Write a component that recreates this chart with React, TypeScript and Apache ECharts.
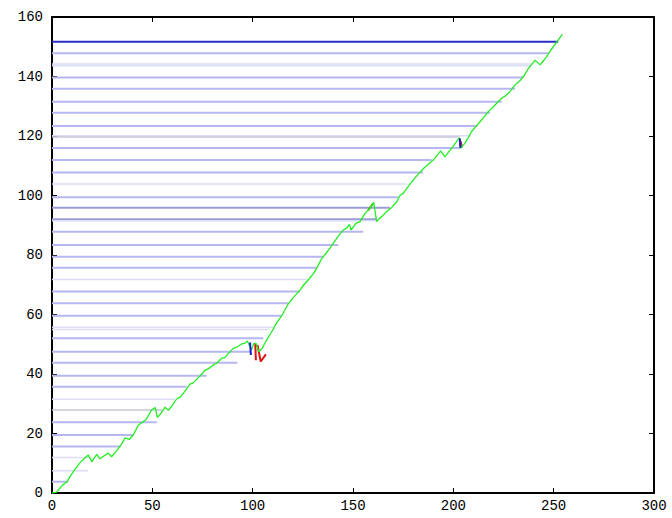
import React, { useEffect, useRef } from "react";
import * as echarts from "echarts";

// Main price path (x, y)
const pathX = [0, 2.3, 5, 7.5, 9, 11, 14, 16, 18.1, 19.8, 22.3, 23.9, 26, 28, 29.7, 32, 34.7, 36.4, 38.5, 40.5, 43, 45, 47, 49.7, 51.5, 52.5, 54, 56.3, 58, 60, 62.1, 64, 66, 68.8, 70.3, 72, 74, 76.2, 78, 80.4, 82, 84.6, 86.2, 88, 90.3, 92, 94.5, 96, 97.3, 98.3, 99.5, 100.5, 101.7, 103, 104.7, 107, 109.5, 112, 114.5, 116, 117.8, 120, 123.6, 125.5, 127.7, 130, 131.9, 134.4, 136.5, 138.5, 141.9, 143.5, 145.2, 147, 148.2, 149, 151.5, 153.5, 156, 158.5, 160.3, 161.8, 163, 164.3, 166.8, 169.3, 171.8, 173.4, 175, 178.4, 181, 183, 185, 187.5, 190, 193.7, 195.8, 197.5, 199.2, 201.5, 203, 203.8, 205.8, 207.5, 209.1, 211, 213.3, 215.5, 217.4, 219.5, 221.6, 224.1, 226, 228.2, 230.7, 233, 234.9, 237.4, 239, 240.7, 243.2, 244.8, 246.5, 248, 249.8, 252.3, 254.3];
const pathY = [0, 0.3, 2.5, 3.8, 5.5, 7.5, 10.2, 11.5, 12.8, 10.5, 13, 11.5, 12.5, 13.4, 12.2, 14, 16.5, 18.5, 18, 19.5, 22.8, 23.8, 24.8, 28, 28.7, 25.4, 26.5, 28.8, 27.8, 29.5, 31.6, 32.3, 34, 36.6, 37, 38.2, 39.5, 41.2, 41.8, 43, 43.6, 45.3, 45.5, 47, 48.6, 49, 50.1, 50.3, 51.1, 49.7, 48.2, 50.2, 50.3, 47.5, 48.6, 51.5, 54.2, 57.2, 59.6, 61.5, 63.6, 65.5, 68.2, 70, 71.6, 73.5, 75.5, 78.8, 80.5, 82.3, 85.6, 87, 88.4, 89.2, 90.3, 88.4, 90.6, 91.2, 94, 95.7, 97.7, 91.2, 92.2, 92.9, 94.6, 96, 97.9, 100, 100.7, 103.8, 106, 107.5, 109, 110.5, 111.9, 115, 113, 114.5, 115.9, 118, 119.4, 115.9, 117.6, 119.5, 121.5, 123, 124.8, 126.5, 128.2, 129.5, 131, 132.7, 133.5, 134.9, 137.1, 138.5, 139.9, 142.7, 144, 145.5, 143.9, 145.2, 146.7, 148.3, 150, 152.3, 154.2];

// Horizontal levels: y value, x where it ends, strength tier (0 faint .. 3 strong, 4 grey)
const levelY = [151.7, 147.8, 144.2, 143.6, 139.7, 135.9, 131.5, 127.8, 123.4, 120.1, 119.7, 116, 111.9, 107.7, 103.9, 99.4, 95.9, 92, 91.5, 87.8, 83.4, 79.4, 75.7, 71.8, 67.7, 63.8, 59.6, 55.7, 55, 52, 47.5, 43.8, 39.4, 35.7, 31.5, 27.9, 23.8, 19.5, 15.6, 11.9, 7.5, 3.8];
const levelEndX = [252.3, 247.3, 239, 239, 234.9, 230.7, 224.1, 218.3, 212, 209, 203, 203.3, 189.2, 185, 176.7, 172.6, 168.4, 161.8, 161.8, 155.1, 142.7, 135.2, 131.9, 127.7, 123.6, 117.8, 114.5, 110.3, 108, 105.3, 98.7, 92.3, 77.1, 67.1, 61.3, 55, 52.2, 40.5, 34.2, 20, 18, 8.1];
const levelTier = [3, 1, 0, 0, 1, 1, 1, 1, 1, 0, 4, 1, 1, 1, 0, 1, 2, 2, 0, 1, 1, 1, 1, 0, 1, 1, 1, 0, 0, 1, 1, 1, 1, 1, 0, 4, 1, 1, 1, 0, 0, 1];

// Short down/up marks
const blueMarks = [
  [[98.7, 50.6], [99.1, 46.4]],
  [[203.2, 119.2], [203.5, 116]],
];
const redMarks = [
  [[101.3, 50.2], [101.6, 44.6]],
  [[102.4, 49.8], [104, 44.2], [106.6, 46.6]],
  [[203.7, 118.2], [204.2, 116.2]],
  [[157.6, 95.0], [160.0, 97.4]],
];

const tierStyle: Record<number, { color: string; width: number }> = {
  0: { color: "#dcdcf7", width: 1.5 },
  1: { color: "#b6b6f0", width: 2 },
  2: { color: "#9c9cdc", width: 2 },
  3: { color: "#2c2cc8", width: 2 },
  4: { color: "#c4c4d8", width: 1.5 },
};

const FONT = "Liberation Mono";

export default function App() {
  const ref = useRef<HTMLDivElement>(null);
  useEffect(() => {
    if (!ref.current) return;
    const chart = echarts.init(ref.current, undefined, { renderer: "svg" });
    const series: any[] = [];
    levelY.forEach((y, i) => {
      const st = tierStyle[levelTier[i]];
      series.push({
        type: "line",
        data: [[0, y], [levelEndX[i], y]],
        symbol: "none",
        silent: true,
        z: 2 + (levelTier[i] === 3 ? 1 : 0),
        lineStyle: { color: st.color, width: st.width },
      });
    });
    redMarks.forEach((m, i) =>
      series.push({
        type: "line",
        data: m,
        symbol: "none",
        silent: true,
        z: 4,
        lineStyle: { color: i === 3 ? "#7a8a10" : "#e01010", width: 2 },
      })
    );
    series.push({
      type: "line",
      data: pathX.map((x, i) => [x, pathY[i]]),
      symbol: "none",
      silent: true,
      z: 5,
      lineStyle: { color: "#22ee22", width: 1.3 },
    });
    blueMarks.forEach((m) =>
      series.push({
        type: "line",
        data: m,
        symbol: "none",
        silent: true,
        z: 6,
        lineStyle: { color: "#1a1ad0", width: 2 },
      })
    );
    const axisCommon = {
      type: "value",
      axisLine: { show: true, onZero: false, lineStyle: { color: "#000", width: 2 } },
      axisTick: { show: true, inside: true, length: 5, lineStyle: { color: "#000", width: 1 } },
      splitLine: { show: false },
    };
    chart.setOption({
      animation: false,
      backgroundColor: "#fff",
      grid: { left: 52, right: 18, top: 17, bottom: 25, containLabel: false },
      xAxis: [
        {
          ...axisCommon,
          min: 0,
          max: 300,
          interval: 50,
          position: "bottom",
          axisLabel: { color: "#000", fontFamily: FONT, fontSize: 14, margin: 6 },
        },
        {
          ...axisCommon,
          min: 0,
          max: 300,
          interval: 50,
          position: "top",
          axisLabel: { show: false },
        },
      ],
      yAxis: [
        {
          ...axisCommon,
          min: 0,
          max: 160,
          interval: 20,
          position: "left",
          axisLabel: { color: "#000", fontFamily: FONT, fontSize: 14, margin: 9 },
        },
        {
          ...axisCommon,
          min: 0,
          max: 160,
          interval: 20,
          position: "right",
          axisLabel: { show: false },
        },
      ],
      series,
    });
    return () => chart.dispose();
  }, []);
  return (
    <div
      ref={ref}
      style={{ position: "fixed", left: 0, top: 0, width: 672, height: 518, background: "#fff" }}
    />
  );
}
